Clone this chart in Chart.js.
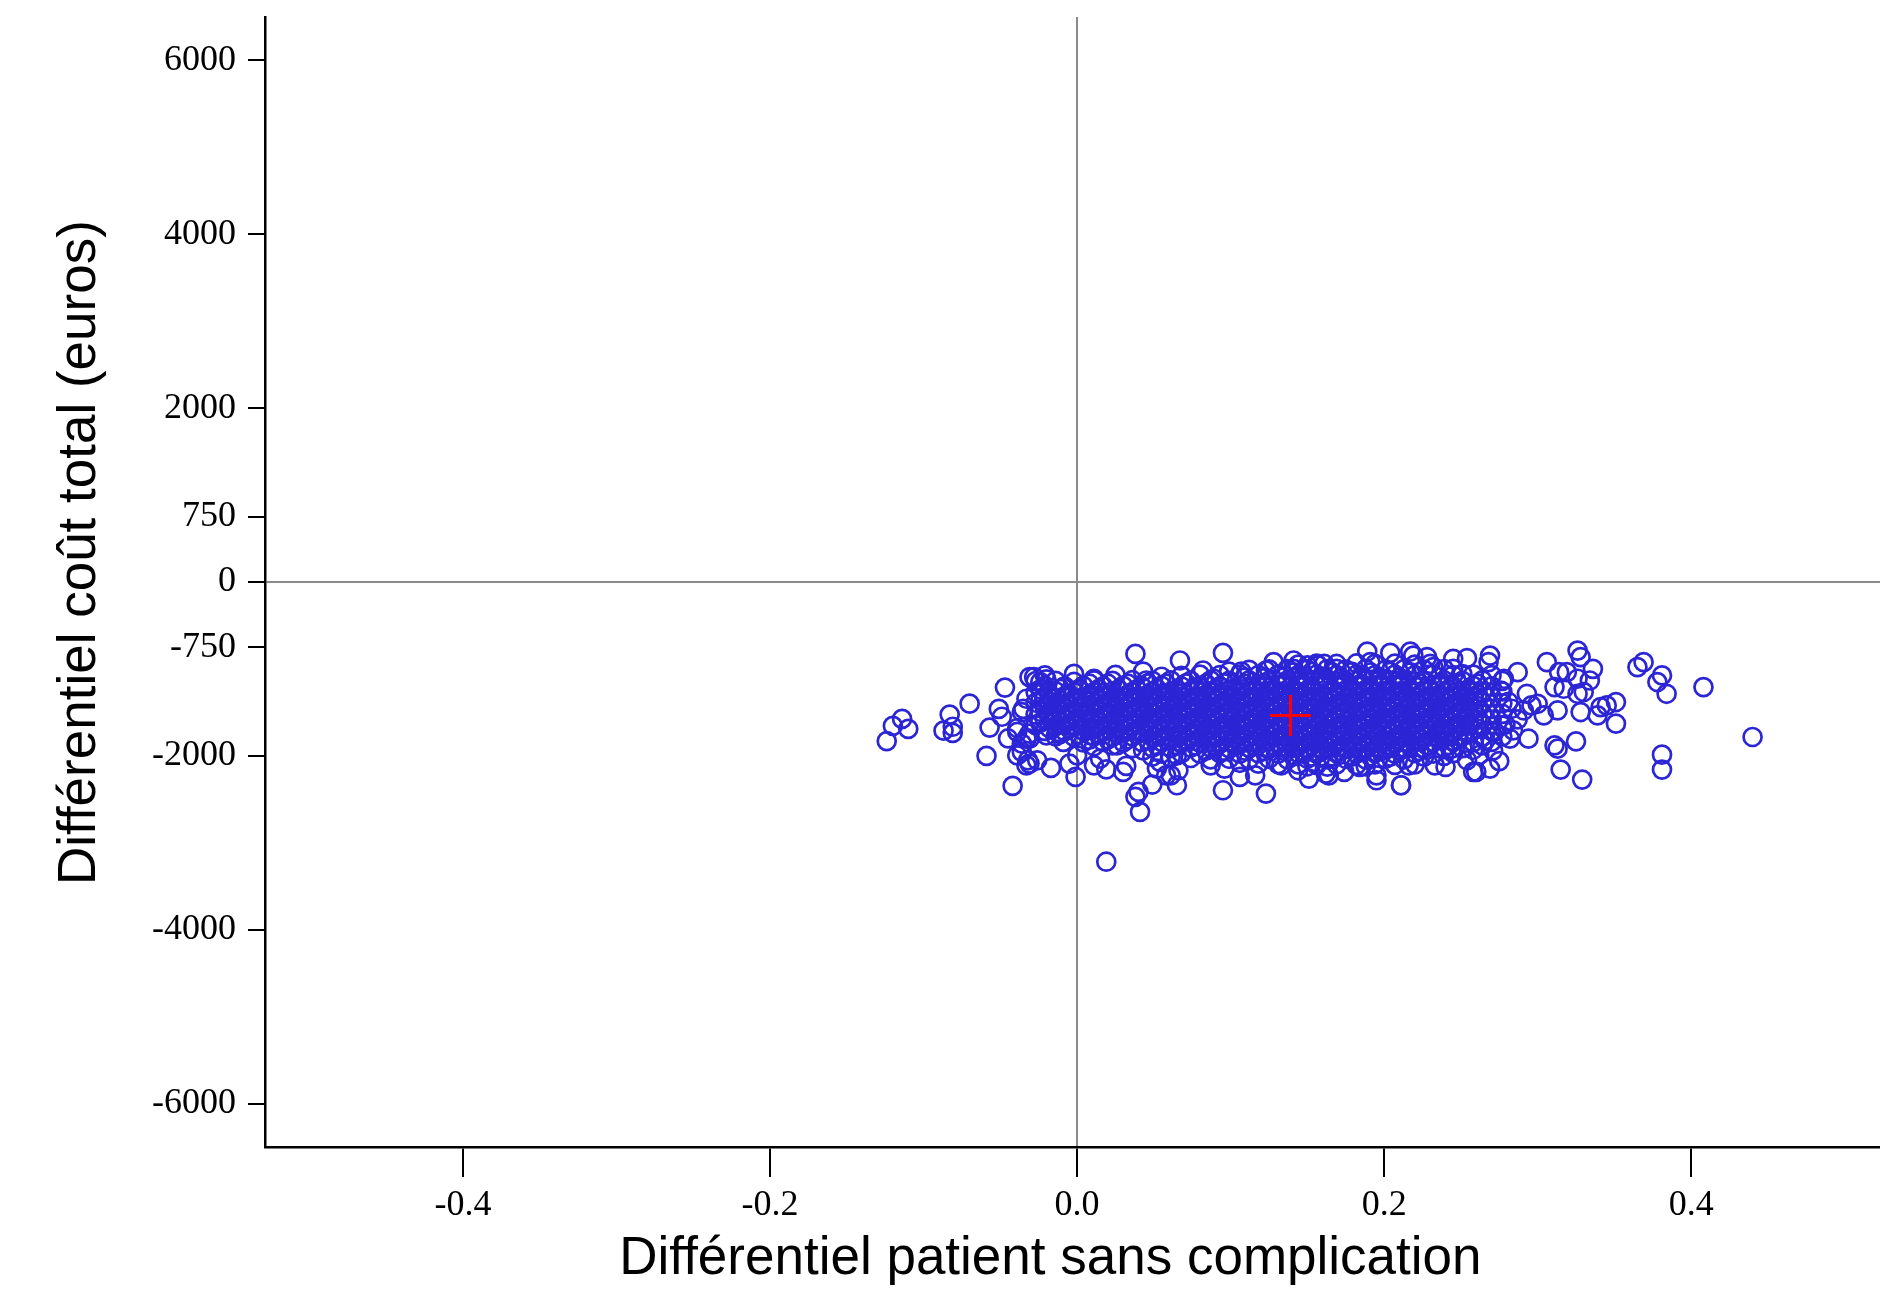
<!DOCTYPE html>
<html lang="fr">
<head>
<meta charset="utf-8">
<title>Plan coût-efficacité</title>
<script src="https://cdn.jsdelivr.net/npm/chart.js@4.4.1/dist/chart.umd.min.js"></script>
<style>
  html, body { margin: 0; padding: 0; background: #fff; }
  #wrap { width: 1880px; height: 1291px; }
</style>
</head>
<body>
<div id="wrap"><canvas id="plan"></canvas></div>
<script>
// axes
const xTicks = [-0.4, -0.2, 0, 0.2, 0.4];
const yTicks = [6000, 4000, 2000, 750, 0, -750, -2000, -4000, -6000];

// mean of the replications (red cross)
const moyenne = [0.139, -1535];

// scattered replications read one by one (x = différentiel patient, y = différentiel coût)
const dispersés = [
  [-0.124,-1830],[-0.120,-1655],[-0.114,-1575],[-0.110,-1690],
  [-0.083,-1525],[-0.087,-1710],[-0.081,-1665],[-0.081,-1735],
  [-0.070,-1400],[-0.057,-1675],[-0.059,-2000],[-0.047,-1215],
  [-0.051,-1460],[-0.049,-1550],[-0.042,-2345],[-0.045,-1800],
  [-0.039,-1995],[-0.033,-2110],[-0.031,-1095],[-0.035,-1460],
  [-0.039,-1725],[-0.033,-1343],[-0.036,-1496],[-0.039,-1680],
  [-0.031,-1802],[-0.036,-1860],[-0.032,-2051],[-0.020,-1121],
  [0.038,-827],[0.067,-903],[-0.028,-1094],[-0.021,-1075],[-0.002,-1056],
  [0.011,-1113],[0.025,-1068],[0.043,-1030],[0.045,-1133],[-0.009,-1209],[-0.024,-1151],
  [-0.031,-2089],[-0.026,-2051],[-0.017,-2139],[-0.001,-2242],[-0.005,-2089],
  [0.011,-2109],[0.019,-2155],[0.030,-2185],[0.032,-2116],[0.038,-2472],
  [0.041,-2644],[0.040,-2414],[0.049,-2330],[0.052,-2147],[0.058,-2224],
  [0.065,-2338],[0.019,-3218],
  [-0.033,-1802],[-0.031,-1745],[-0.020,-1765],[-0.013,-1725],[-0.009,-1840],
  [-0.036,-1955],[0.000,-1994],[0.009,-1765],[0.015,-2032],[0.026,-1880],
  [0.043,-1937],[0.054,-2070],[0.065,-1994],
  [0.095,-815],[0.107,-1030],[0.123,-1018],[0.128,-922],[0.141,-903],
  [0.141,-999],[0.150,-960],[0.157,-960],[0.082,-1018],[0.089,-1113],
  [0.066,-2166],[0.095,-2396],[0.106,-2242],[0.116,-2224],[0.123,-2434],
  [0.087,-2109],[0.096,-2147],[0.133,-2109],[0.144,-2166],[0.151,-2262],
  [0.162,-2204],[0.061,-2224],
  [0.189,-800],[0.204,-815],[0.217,-800],[0.219,-846],[0.228,-865],
  [0.230,-941],[0.245,-884],[0.254,-876],[0.191,-922],[0.161,-941],
  [0.169,-999],[0.178,-1037],
  [0.164,-2224],[0.174,-2185],[0.184,-2128],[0.195,-2224],[0.195,-2281],
  [0.211,-2338],[0.216,-2109],[0.233,-2109],[0.240,-2128],[0.244,-1917],
  [0.258,-2185],[0.254,-2051],[0.228,-1880],
  [0.269,-846],[0.268,-922],[0.287,-1037],[0.278,-1113],[0.306,-922],
  [0.326,-789],[0.328,-864],[0.336,-999],[0.334,-1133],[0.314,-1037],
  [0.319,-1037],[0.311,-1209],[0.317,-1228],[0.326,-1113],[0.326,-1286],
  [0.330,-1266],[0.293,-1286],[0.300,-1401],[0.296,-1420],[0.304,-1535],
  [0.313,-1477],[0.328,-1496],[0.339,-1535],[0.345,-1420],[0.351,-1381],
  [0.351,-1630],[0.341,-1439],[0.283,-1458],[0.284,-1707],[0.294,-1802],
  [0.282,-1802],[0.271,-1937],[0.269,-2147],[0.260,-2185],[0.311,-1879],
  [0.313,-1917],[0.325,-1833],[0.315,-2158],[0.329,-2273],
  [0.365,-979],[0.369,-922],[0.378,-1151],[0.381,-1075],[0.384,-1286],
  [0.408,-1209],[0.440,-1783],[0.381,-1986],[0.381,-2158],[0.211,-2338],
  [0.276,-1250],[0.281,-1380],[0.291,-1478],[0.287,-1580],[0.279,-1640],
  [0.272,-1720],[0.266,-1820],[0.275,-2060],[0.262,-1990]
];

// dense core, estimated column by column: [x, [y values]]
const noyau = [
  [-0.027, [-1140,-1268,-1389,-1525,-1647]],
  [-0.021, [-1195,-1331,-1452,-1588,-1712]],
  [-0.014, [-1137,-1259,-1396,-1518,-1655,-1776]],
  [-0.008, [-1202,-1324,-1460,-1581,-1717]],
  [-0.002, [-1150,-1266,-1388,-1524,-1646,-1782]],
  [0.004, [-1194,-1330,-1452,-1589,-1710,-1846]],
  [0.011, [-1131,-1267,-1395,-1517,-1653,-1775,-1890]],
  [0.017, [-1201,-1323,-1459,-1581,-1718,-1840]],
  [0.023, [-1137,-1260,-1395,-1524,-1647,-1782,-1880]],
  [0.030, [-1195,-1331,-1453,-1588,-1711,-1846]],
  [0.036, [-1130,-1266,-1389,-1524,-1653,-1776,-1911]],
  [0.042, [-1201,-1324,-1459,-1582,-1717,-1840]],
  [0.049, [-1137,-1260,-1395,-1518,-1653,-1782,-1905,-2010]],
  [0.055, [-1090,-1195,-1330,-1453,-1588,-1717,-1840,-1975]],
  [0.061, [-1131,-1266,-1389,-1524,-1647,-1782,-1911,-2020]],
  [0.068, [-1080,-1202,-1324,-1459,-1582,-1717,-1846,-1969]],
  [0.074, [-1137,-1260,-1395,-1518,-1653,-1776,-1905,-2025]],
  [0.080, [-1066,-1195,-1331,-1453,-1588,-1711,-1846,-1975]],
  [0.087, [-1131,-1266,-1389,-1524,-1647,-1782,-1905,-2040]],
  [0.093, [-1072,-1201,-1324,-1459,-1582,-1717,-1840,-1969]],
  [0.099, [-1030,-1137,-1260,-1395,-1518,-1653,-1776,-1911,-2034]],
  [0.106, [-1066,-1195,-1330,-1453,-1588,-1711,-1846,-1975,-2080]],
  [0.112, [-1010,-1131,-1266,-1389,-1524,-1647,-1782,-1905,-2040]],
  [0.118, [-1072,-1201,-1324,-1459,-1582,-1717,-1840,-1969,-2090]],
  [0.125, [-1005,-1137,-1260,-1395,-1518,-1653,-1776,-1911,-2034]],
  [0.131, [-1066,-1195,-1330,-1453,-1588,-1711,-1846,-1975,-2095]],
  [0.137, [-1002,-1131,-1266,-1389,-1524,-1647,-1782,-1905,-2040]],
  [0.144, [-950,-1072,-1201,-1324,-1459,-1582,-1717,-1840,-1969,-2098]],
  [0.150, [-1008,-1137,-1260,-1395,-1518,-1653,-1776,-1911,-2034,-2120]],
  [0.156, [-940,-1066,-1195,-1330,-1453,-1588,-1711,-1846,-1975,-2104]],
  [0.163, [-1002,-1131,-1266,-1389,-1524,-1647,-1782,-1905,-2040,-2125]],
  [0.169, [-943,-1072,-1201,-1324,-1459,-1582,-1717,-1840,-1969,-2098]],
  [0.175, [-1008,-1137,-1260,-1395,-1518,-1653,-1776,-1911,-2034]],
  [0.182, [-937,-1066,-1195,-1330,-1453,-1588,-1711,-1846,-1975,-2104]],
  [0.188, [-1002,-1131,-1266,-1389,-1524,-1647,-1782,-1905,-2040,-2120]],
  [0.194, [-943,-1072,-1201,-1324,-1459,-1582,-1717,-1840,-1969,-2098]],
  [0.201, [-1008,-1137,-1260,-1395,-1518,-1653,-1776,-1911,-2034]],
  [0.207, [-940,-1066,-1195,-1330,-1453,-1588,-1711,-1846,-1975,-2104]],
  [0.213, [-1002,-1131,-1266,-1389,-1524,-1647,-1782,-1905,-2040]],
  [0.220, [-950,-1072,-1201,-1324,-1459,-1582,-1717,-1840,-1969,-2098]],
  [0.226, [-1008,-1137,-1260,-1395,-1518,-1653,-1776,-1911,-2010]],
  [0.232, [-980,-1066,-1195,-1330,-1453,-1588,-1711,-1846,-1975]],
  [0.239, [-1002,-1131,-1266,-1389,-1524,-1647,-1782,-1905,-2000]],
  [0.245, [-1000,-1072,-1201,-1324,-1459,-1582,-1717,-1840,-1969]],
  [0.251, [-1060,-1137,-1260,-1395,-1518,-1653,-1776,-1911]],
  [0.258, [-1066,-1195,-1330,-1453,-1588,-1711,-1846,-1930]],
  [0.264, [-1131,-1266,-1389,-1524,-1647,-1782,-1880]],
  [0.270, [-1072,-1201,-1324,-1459,-1582,-1717,-1840]],
  [0.277, [-1137,-1260,-1395,-1518,-1653,-1776]]
];

// heart of the cloud, where the circles overlap into a solid patch
const noyauCentre = [
  [-0.024, [-1235,-1360,-1493,-1618]],
  [-0.018, [-1299,-1424,-1557,-1682]],
  [-0.011, [-1231,-1364,-1489,-1622,-1747]],
  [-0.005, [-1295,-1428,-1553,-1686]],
  [0.001, [-1235,-1360,-1493,-1618,-1751]],
  [0.008, [-1170,-1299,-1424,-1557,-1682,-1815]],
  [0.014, [-1231,-1364,-1489,-1622,-1747]],
  [0.020, [-1170,-1295,-1428,-1553,-1686,-1811]],
  [0.027, [-1235,-1360,-1493,-1618,-1751]],
  [0.033, [-1170,-1295,-1428,-1553,-1686,-1811]],
  [0.039, [-1235,-1360,-1493,-1618,-1751]],
  [0.046, [-1166,-1299,-1424,-1557,-1682,-1815]],
  [0.052, [-1231,-1364,-1489,-1622,-1747,-1880]],
  [0.058, [-1170,-1295,-1428,-1553,-1686,-1811]],
  [0.065, [-1235,-1360,-1493,-1618,-1751,-1876]],
  [0.071, [-1166,-1299,-1424,-1557,-1682,-1815]],
  [0.077, [-1231,-1364,-1489,-1622,-1747,-1880]],
  [0.084, [-1170,-1295,-1428,-1553,-1686,-1811,-1940]],
  [0.090, [-1235,-1360,-1493,-1618,-1751,-1876]],
  [0.096, [-1166,-1299,-1424,-1557,-1682,-1815,-1944]],
  [0.103, [-1231,-1364,-1489,-1622,-1747,-1880]],
  [0.109, [-1100,-1170,-1295,-1428,-1553,-1686,-1811,-1940]],
  [0.115, [-1235,-1360,-1493,-1618,-1751,-1876]],
  [0.122, [-1105,-1166,-1299,-1424,-1557,-1682,-1815,-1944]],
  [0.128, [-1231,-1364,-1489,-1622,-1747,-1880]],
  [0.134, [-1100,-1170,-1295,-1428,-1553,-1686,-1811,-1940]],
  [0.141, [-1040,-1235,-1360,-1493,-1618,-1751,-1876,-2005]],
  [0.147, [-1105,-1166,-1299,-1424,-1557,-1682,-1815,-1944]],
  [0.153, [-1035,-1231,-1364,-1489,-1622,-1747,-1880,-2010]],
  [0.160, [-1100,-1170,-1295,-1428,-1553,-1686,-1811,-1940]],
  [0.166, [-1040,-1235,-1360,-1493,-1618,-1751,-1876,-2005]],
  [0.172, [-1105,-1166,-1299,-1424,-1557,-1682,-1815,-1944]],
  [0.179, [-1035,-1231,-1364,-1489,-1622,-1747,-1880,-2010]],
  [0.185, [-1100,-1170,-1295,-1428,-1553,-1686,-1811,-1940]],
  [0.191, [-1040,-1235,-1360,-1493,-1618,-1751,-1876,-2005]],
  [0.198, [-1105,-1166,-1299,-1424,-1557,-1682,-1815,-1944]],
  [0.204, [-1035,-1231,-1364,-1489,-1622,-1747,-1880,-2010]],
  [0.210, [-1100,-1170,-1295,-1428,-1553,-1686,-1811,-1940]],
  [0.217, [-1040,-1235,-1360,-1493,-1618,-1751,-1876]],
  [0.223, [-1166,-1299,-1424,-1557,-1682,-1815,-1944]],
  [0.229, [-1231,-1364,-1489,-1622,-1747,-1880]],
  [0.236, [-1170,-1295,-1428,-1553,-1686,-1811]],
  [0.242, [-1235,-1360,-1493,-1618,-1751,-1876]],
  [0.248, [-1166,-1299,-1424,-1557,-1682,-1815]],
  [0.255, [-1231,-1364,-1489,-1622,-1747]],
  [0.261, [-1170,-1295,-1428,-1553,-1686]]
];

const replications = dispersés.map(p => ({x: p[0], y: p[1]}));
noyau.concat(noyauCentre).forEach(col => col[1].forEach(y => replications.push({x: col[0], y: y})));

const serif = 'Liberation Serif';
const sans = 'Liberation Sans';

// only the zero lines are drawn inside the plot, ticks stay black
function zeroLine(ctx) {
    return ctx.tick && ctx.tick.value === 0 ? '#8a8a8a' : 'rgba(0,0,0,0)';
}

// no extra room for tick labels, the frame is fixed by the layout padding
function noPadding(scale) {
    scale.paddingLeft = 0;
    scale.paddingRight = 0;
    scale.paddingTop = 0;
    scale.paddingBottom = 0;
}

new Chart(document.getElementById('plan'), {
    type: 'scatter',
    data: {
        datasets: [
            {
                label: 'Moyenne',
                data: [{x: moyenne[0], y: moyenne[1]}],
                pointStyle: 'cross',
                pointRadius: 20.5,
                borderColor: '#ff0000',
                borderWidth: 3
            },
            {
                label: 'Réplications',
                data: replications,
                pointStyle: 'circle',
                pointRadius: 9,
                backgroundColor: 'rgba(0,0,0,0)',
                borderColor: '#2b25d6',
                borderWidth: 2.7
            }
        ]
    },
    options: {
        responsive: true,
        maintainAspectRatio: false,
        animation: false,
        layout: { autoPadding: false, padding: { top: 17, right: 0, bottom: 0, left: 0 } },
        plugins: {
            legend: { display: false },
            tooltip: { enabled: false }
        },
        scales: {
            x: {
                type: 'linear',
                min: -0.529,
                max: 0.523,
                z: 1,
                afterBuildTicks: scale => { scale.ticks = xTicks.map(v => ({value: v})); },
                afterFit: scale => { scale.height = 144; noPadding(scale); },
                ticks: {
                    color: '#000',
                    font: { family: serif, size: 36 },
                    padding: 7,
                    maxRotation: 0,
                    callback: v => v.toFixed(1)
                },
                grid: {
                    color: zeroLine,
                    lineWidth: 2,
                    tickColor: '#000',
                    tickWidth: 2,
                    tickLength: 30
                },
                border: { display: true, color: '#000', width: 2.5 },
                title: {
                    display: true,
                    text: 'Différentiel patient sans complication   ',
                    color: '#000',
                    font: { family: sans, size: 53, lineHeight: 1.2 },
                    padding: { top: 0, bottom: 0 }
                }
            },
            y: {
                type: 'linear',
                min: -6500,
                max: 6500,
                z: 1,
                afterBuildTicks: scale => { scale.ticks = yTicks.map(v => ({value: v})); },
                afterFit: scale => { scale.width = 265; noPadding(scale); },
                ticks: {
                    color: '#000',
                    font: { family: serif, size: 36 },
                    padding: 12,
                    callback: v => String(v)
                },
                grid: {
                    color: zeroLine,
                    lineWidth: 2,
                    tickColor: '#000',
                    tickWidth: 2,
                    tickLength: 17
                },
                border: { display: true, color: '#000', width: 2.5 },
                title: {
                    display: true,
                    text: '    Différentiel coût total (euros)',
                    color: '#000',
                    font: { family: sans, size: 53, lineHeight: 1 },
                    padding: { top: 54, bottom: 0 }
                }
            }
        }
    }
});
</script>
</body>
</html>
